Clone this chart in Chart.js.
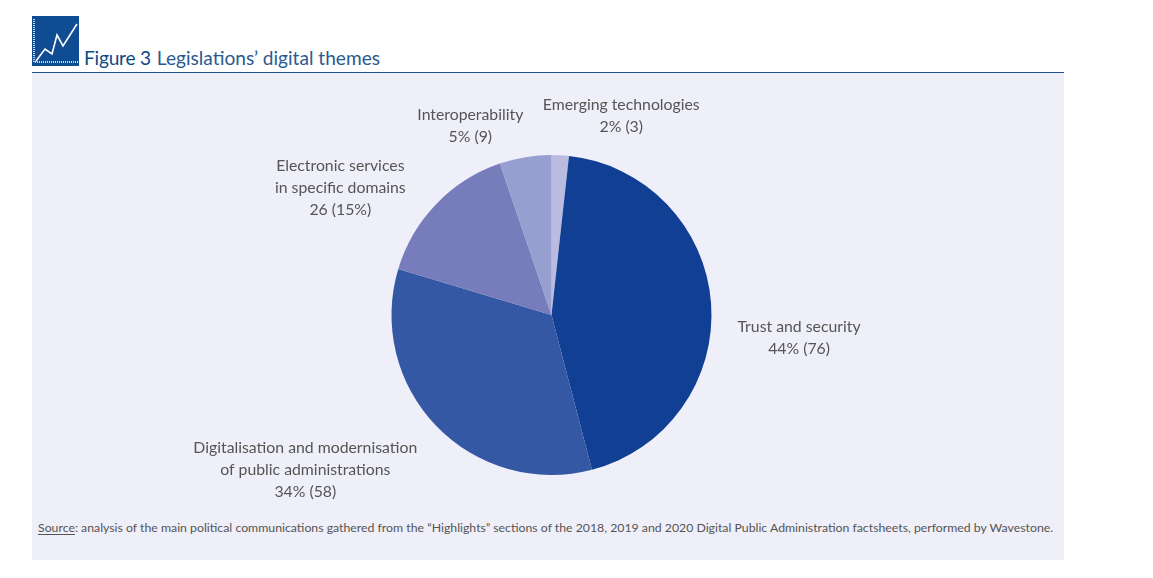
<!DOCTYPE html>
<html>
<head>
<meta charset="utf-8">
<script src="https://cdn.jsdelivr.net/npm/chart.js@4"></script>
<style>
    html, body { margin: 0; padding: 0; background: #fff; }
    body { position: relative; width: 1153px; height: 578px; overflow: hidden; font-family: Lato, sans-serif; }
    #panel { position: absolute; left: 32px; top: 73px; width: 1032px; height: 487px; background: #eeeff8; }
    #rule { position: absolute; left: 32px; top: 72px; width: 1032px; height: 1px; background: #1b4f8f; }
    #icon { position: absolute; left: 32px; top: 16px; }
    #title { position: absolute; left: 84px; top: 46px; font-size: 19.1px; line-height: 24px; color: #2a5a8f; white-space: nowrap; }
    #title b { font-weight: 400; color: #0c4a86; letter-spacing: -0.2px; margin-right: 1px; }
    #source { position: absolute; left: 38px; top: 520px; font-size: 12.29px; line-height: 16px; color: #555; white-space: nowrap; }
    #source u { text-underline-offset: 2px; }
    canvas { position: absolute; left: 0; top: 0; }
</style>
</head>
<body>
<div id="panel"></div>
<div id="rule"></div>
<svg id="icon" width="47" height="50" viewBox="0 0 47 50">
    <rect width="47" height="50" fill="#0f4c92"/>
    <path d="M2 3V46H46" fill="none" stroke="#cfd9ea" stroke-width="2" stroke-dasharray="1 1"/>
    <path d="M4 45L13 33L20 38L25 19L31 30L45 8" fill="none" stroke="#fff" stroke-width="1.6"/>
</svg>
<div id="title"><b>Figure 3</b> Legislations’ digital themes</div>
<div id="source"><u>Source</u>: analysis of the main political communications gathered from the “Highlights” sections of the 2018, 2019 and 2020 Digital Public Administration factsheets, performed by Wavestone.</div>
<canvas id="themesChart" width="1153" height="578"></canvas>

<script>
// Values, clockwise from 12 o'clock
const categories = ['Emerging technologies', 'Trust and security', 'Digitalisation and modernisation of public administrations', 'Electronic services in specific domains', 'Interoperability'];
const values = [3, 76, 58, 26, 9];
const sliceColors = ['#b9bcdf', '#103f93', '#3558a5', '#767dba', '#979fd1'];

// Label text, one entry per line
const labelLines = [
    ['Emerging technologies', '2% (3)'],
    ['Trust and security', '44% (76)'],
    ['Digitalisation and modernisation', 'of public administrations', '34% (58)'],
    ['Electronic services', 'in specific domains', '26 (15%)'],
    ['Interoperability', '5% (9)']
];

// Where each label block sits relative to the outer edge of its slice
const labelOffsets = [[61, -39], [88, 35], [-131, 44], [-96, -16], [-55, -31]];

const sliceLabels = {
    id: 'sliceLabels',
    afterDatasetsDraw(chart) {
        const ctx = chart.ctx;
        const lineHeight = 22;
        ctx.save();
        ctx.font = '15.8px Lato, sans-serif';
        ctx.fillStyle = '#555';
        ctx.textAlign = 'center';
        ctx.textBaseline = 'middle';
        chart.getDatasetMeta(0).data.forEach((arc, i) => {
            const mid = (arc.startAngle + arc.endAngle) / 2;
            const edgeX = arc.x + Math.cos(mid) * arc.outerRadius;
            const edgeY = arc.y + Math.sin(mid) * arc.outerRadius;
            const lines = labelLines[i];
            const top = edgeY + labelOffsets[i][1] - (lines.length - 1) * lineHeight / 2;
            lines.forEach((line, n) => {
                ctx.fillText(line, edgeX + labelOffsets[i][0], top + n * lineHeight);
            });
        });
        ctx.restore();
    }
};

new Chart(document.getElementById('themesChart').getContext('2d'), {
    type: 'pie',
    data: {
        labels: categories,
        datasets: [{
            data: values,
            backgroundColor: sliceColors,
            borderWidth: 0
        }]
    },
    options: {
        responsive: false,
        animation: false,
        layout: { padding: { left: 391, right: 441, top: 155, bottom: 103 } },
        plugins: {
            legend: { display: false },
            tooltip: { enabled: false }
        }
    },
    plugins: [sliceLabels]
});
</script>
</body>
</html>
